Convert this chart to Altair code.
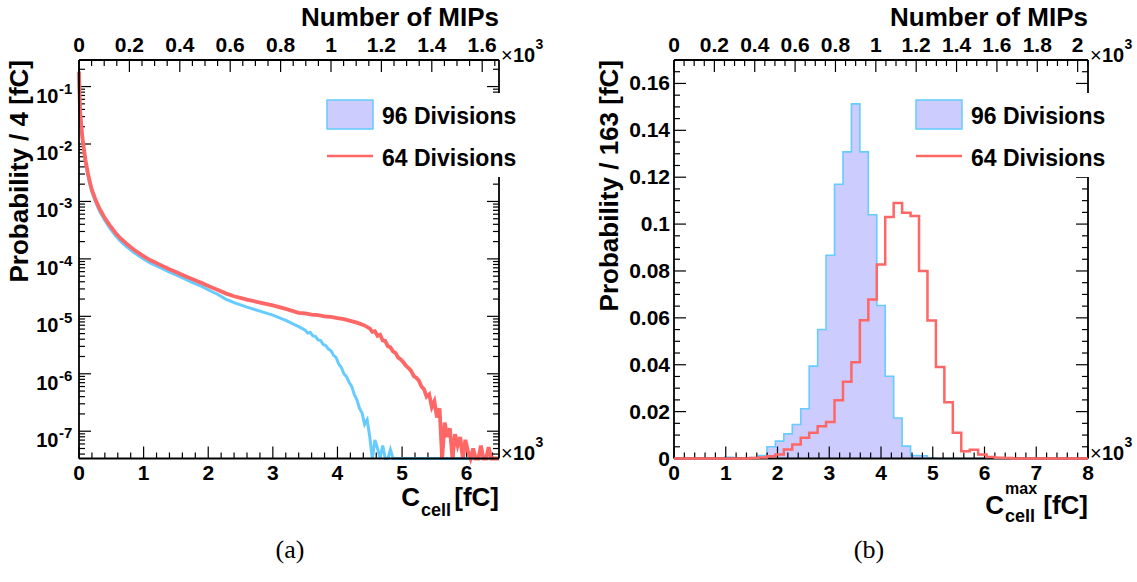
import altair as alt
import numpy as np
import pandas as pd

W, H = 1137, 582
SANS = "Liberation Sans"
SERIF = "Liberation Serif"
FILL96 = "#ccccff"
LINE96 = "#66ccff"
LINE64 = "#ff6666"

# ---------------------------------------------------------------- layout (px)
L_X0, L_X1 = 79, 499          # left pad frame
R_X0, R_X1 = 674, 1088        # right pad frame
Y_TOP, Y_BOT = 60, 458.5

FC_PER_MIP = 3.9              # 10^3 fC per 10^3 MIPs

# ---------------------------------------------------------------- data
# (a) cell charge spectrum, probability per 4 fC, x in 10^3 fC, log10 values
# nan = empty bin
nan = float("nan")
cell_x_96 = [0.000, 0.004, 0.008, 0.012, 0.016, 0.020, 0.026, 0.035, 0.045, 0.055,
             0.066, 0.080, 0.100, 0.118, 0.140, 0.170, 0.200, 0.220, 0.260, 0.320,
             0.400, 0.480, 0.560, 0.640, 0.730, 0.850, 0.980, 1.100, 1.250, 1.400,
             1.500, 1.620, 1.750, 1.900, 2.020, 2.150, 2.270, 2.400, 2.600, 2.800,
             3.000, 3.200, 3.400,
             3.50, 3.54, 3.58, 3.62, 3.66, 3.70, 3.74, 3.78, 3.82, 3.86,
             3.90, 3.94, 3.98, 4.02, 4.06, 4.10, 4.14, 4.18, 4.22, 4.26,
             4.30, 4.34, 4.38, 4.42, 4.46, 4.50, 4.54, 4.58, 4.62, 4.66,
             4.70, 4.74, 4.78, 4.82, 4.86, 6.50]
cell_log_96 = [-0.75, -0.97, -1.15, -1.30, -1.41, -1.50, -1.58, -1.72, -1.84, -1.95,
               -2.04, -2.16, -2.32, -2.43, -2.56, -2.71, -2.84, -2.90, -3.02, -3.17,
               -3.33, -3.47, -3.59, -3.69, -3.78, -3.89, -3.99, -4.07, -4.15, -4.23,
               -4.28, -4.34, -4.41, -4.48, -4.55, -4.62, -4.70, -4.76, -4.84, -4.91,
               -4.98, -5.07, -5.18,
               -5.24, -5.29, -5.28, -5.34, -5.35, -5.41, -5.42, -5.49, -5.51, -5.57,
               -5.60, -5.68, -5.72, -5.83, -5.89, -6.00, -6.05, -6.15, -6.22, -6.36,
               -6.45, -6.60, -6.68, -6.88, -6.80, -7.10, nan, -7.15, -7.30, nan,
               -7.25, nan, nan, -7.32, nan, nan]

cell_x_64 = [0.000, 0.004, 0.008, 0.012, 0.016, 0.020, 0.026, 0.035, 0.045, 0.055,
             0.066, 0.080, 0.100, 0.118, 0.140, 0.170, 0.200, 0.220, 0.260, 0.320,
             0.400, 0.480, 0.560, 0.640, 0.730, 0.850, 0.980, 1.100, 1.250, 1.400,
             1.500, 1.620, 1.750, 1.900, 2.020, 2.150, 2.270, 2.400, 2.600, 2.800,
             3.000, 3.200, 3.400, 3.500, 3.600, 3.700, 3.800, 3.900, 4.000, 4.100,
             4.200, 4.300, 4.400,
             4.50, 4.54, 4.58, 4.62, 4.66, 4.70, 4.74, 4.78, 4.82, 4.86,
             4.90, 4.94, 4.98, 5.02, 5.06, 5.10, 5.14, 5.18, 5.22, 5.26,
             5.30, 5.34, 5.38, 5.42, 5.46, 5.50, 5.54, 5.58, 5.62, 5.66,
             5.70, 5.74, 5.78, 5.82, 5.86, 5.90, 5.94, 5.98, 6.02, 6.06,
             6.10, 6.14, 6.18, 6.22, 6.26, 6.30, 6.34, 6.38, 6.50]
cell_log_64 = [-0.74, -0.95, -1.12, -1.27, -1.38, -1.47, -1.55, -1.68, -1.80, -1.91,
               -2.00, -2.12, -2.28, -2.39, -2.52, -2.67, -2.80, -2.86, -2.98, -3.13,
               -3.29, -3.42, -3.54, -3.64, -3.73, -3.84, -3.94, -4.02, -4.10, -4.18,
               -4.23, -4.29, -4.35, -4.42, -4.48, -4.54, -4.60, -4.65, -4.71, -4.76,
               -4.81, -4.87, -4.94, -4.95, -4.97, -4.98, -5.00, -5.01, -5.03, -5.05,
               -5.08, -5.11, -5.15,
               -5.21, -5.27, -5.26, -5.34, -5.32, -5.42, -5.43, -5.52, -5.54, -5.61,
               -5.64, -5.72, -5.75, -5.80, -5.86, -5.90, -5.95, -6.04, -6.07, -6.12,
               -6.22, -6.27, -6.40, -6.36, -6.58, -6.48, -6.76, -6.60, nan, -6.85,
               -7.10, -6.95, nan, -7.05, -7.25, -7.10, nan, -7.15, -7.35, nan,
               -7.30, nan, nan, -7.25, nan, nan, -7.28, nan, nan]

# (b) maximum cell charge, probability per 163 fC, 49 bins over 0-8 x 10^3 fC
max_prob_96 = [0, 0, 0, 0, 0, 0, 0.0005, 0.0002, 0.0002, 0.0004,
               0.0013, 0.0050, 0.0074, 0.0105, 0.0145, 0.0212, 0.0394, 0.0550, 0.0867, 0.1170,
               0.1308, 0.1513, 0.1308, 0.1040, 0.0653, 0.0351, 0.0173, 0.0053, 0.0013, 0.0012,
               0.0002, 0, 0, 0, 0, 0, 0, 0, 0, 0,
               0, 0, 0, 0, 0, 0, 0, 0, 0]
max_prob_64 = [0, 0, 0, 0, 0, 0, 0, 0, 0, 0.0002,
               0.0004, 0.0010, 0.0017, 0.0038, 0.0060, 0.0088, 0.0110, 0.0138, 0.0156, 0.0249,
               0.0327, 0.0411, 0.0590, 0.0678, 0.0828, 0.1030, 0.1090, 0.1048, 0.1034, 0.0800,
               0.0589, 0.0390, 0.0240, 0.0110, 0.0031, 0.0037, 0.0017, 0.0006, 0.0003, 0.0002,
               0, 0, 0, 0, 0, 0, 0, 0, 0]

# axis tick labels
l_bottom_labels = ["0", "1", "2", "3", "4", "5", "6"]
l_top_labels = ["0", "0.2", "0.4", "0.6", "0.8", "1", "1.2", "1.4", "1.6"]
r_bottom_labels = ["0", "1", "2", "3", "4", "5", "6", "7", "8"]
r_top_labels = ["0", "0.2", "0.4", "0.6", "0.8", "1", "1.2", "1.4", "1.6", "1.8", "2"]
r_y_labels = ["0", "0.02", "0.04", "0.06", "0.08", "0.1", "0.12", "0.14", "0.16"]
l_y_exponents = [-7, -6, -5, -4, -3, -2, -1]

# ---------------------------------------------------------------- scales
Y_MIN_LOG = 3.35e-8
lx = alt.Scale(domain=[0, 6.5], range=[L_X0, L_X1], nice=False, zero=False)
ltop = alt.Scale(domain=[0, 6.5 / FC_PER_MIP], range=[L_X0, L_X1], nice=False, zero=False)
ly = alt.Scale(type="log", domain=[Y_MIN_LOG, 0.29], range=[Y_BOT, Y_TOP], nice=False)
rx = alt.Scale(domain=[0, 8], range=[R_X0, R_X1], nice=False, zero=False)
rtop = alt.Scale(domain=[0, 8 / FC_PER_MIP], range=[R_X0, R_X1], nice=False, zero=False)
ry = alt.Scale(domain=[0, 0.17], range=[Y_BOT, Y_TOP], nice=False, zero=False)

MAJ, MIN = 12, 6
TICK_W = 1.2


def txt(s, x, y, size=21, align="left", baseline="alphabetic", angle=None,
        weight="bold", font=SANS):
    kw = dict(fontSize=size, align=align, baseline=baseline, font=font,
              fontWeight=weight, color="black")
    if angle is not None:
        kw["angle"] = angle
    return alt.Chart(pd.DataFrame({"t": [s]})).mark_text(**kw).encode(
        text="t:N", x=alt.value(x), y=alt.value(y))


def xticks(vals, scale, y0, y1):
    return alt.Chart(pd.DataFrame({"v": list(vals)})).mark_rule(
        color="black", strokeWidth=TICK_W).encode(
        x=alt.X("v:Q", scale=scale, axis=None), y=alt.value(y0), y2=alt.value(y1))


def yticks(vals, scale, x0, x1):
    return alt.Chart(pd.DataFrame({"v": list(vals)})).mark_rule(
        color="black", strokeWidth=TICK_W).encode(
        y=alt.Y("v:Q", scale=scale, axis=None), x=alt.value(x0), x2=alt.value(x1))


def xlabels(vals, labels, scale, y, size=21):
    df = pd.DataFrame({"v": list(vals), "lab": labels})
    return alt.Chart(df).mark_text(font=SANS, fontWeight="bold", fontSize=size,
                                   align="center", baseline="alphabetic", color="black").encode(
        x=alt.X("v:Q", scale=scale, axis=None), y=alt.value(y), text="lab:N")


def hline(x0, x1, y, w=1.8, color="black"):
    return alt.Chart(pd.DataFrame({"a": [0]})).mark_rule(color=color, strokeWidth=w).encode(
        x=alt.value(x0), x2=alt.value(x1), y=alt.value(y))


def vline(x, y0, y1, w=1.8, color="black"):
    return alt.Chart(pd.DataFrame({"a": [0]})).mark_rule(color=color, strokeWidth=w).encode(
        x=alt.value(x), y=alt.value(y0), y2=alt.value(y1))


def box(x0, x1, y0, y1, fill, stroke=None, sw=1.5):
    kw = dict(fill=fill)
    if stroke is not None:
        kw.update(stroke=stroke, strokeWidth=sw)
    else:
        kw.update(strokeWidth=0)
    return alt.Chart(pd.DataFrame({"a": [0]})).mark_rect(**kw).encode(
        x=alt.value(x0), x2=alt.value(x1), y=alt.value(y0), y2=alt.value(y1))


def frame(x0, x1):
    return [hline(x0, x1, Y_TOP), hline(x0, x1, Y_BOT), vline(x0, Y_TOP, Y_BOT),
            vline(x1, Y_TOP, Y_BOT)]


def frange(a, b, step):
    return [round(v, 4) for v in np.arange(a, b + 1e-9, step)]


def minors(a, b, step, major_step):
    return [v for v in frange(a, b, step) if abs(v / major_step - round(v / major_step)) > 1e-6]


def legend(dx):
    # white legend pad, drawn over the frame
    return [
        box(318 + dx, 524 + dx, 93, 177, "white"),
        box(327 + dx, 373 + dx, 100, 129, FILL96, LINE96, 1.5),
        hline(327 + dx, 373 + dx, 156, w=2.5, color=LINE64),
        txt("96 Divisions", 382 + dx, 123.5, size=23),
        txt("64 Divisions", 382 + dx, 165.5, size=23),
    ]


def times_ten(x, y):
    return [txt("\u00d7", x, y, size=20, weight="normal"),
            txt("10", x + 12, y, size=20),
            txt("3", x + 34.5, y - 13, size=14)]


layers = []

# ================================================================ panel (a)
fl_96 = 10 ** np.nan_to_num(np.array(cell_log_96), nan=np.log10(Y_MIN_LOG))
fl_64 = 10 ** np.nan_to_num(np.array(cell_log_64), nan=np.log10(Y_MIN_LOG))
df96 = pd.DataFrame({"v": cell_x_96, "p": fl_96})
df64 = pd.DataFrame({"v": cell_x_64, "p": fl_64})

# ticks first: the filled histogram hides them
l_major_y = [10.0 ** k for k in l_y_exponents]
l_minor_y = [m * 10.0 ** k for k in range(-8, 0) for m in range(2, 10)
             if Y_MIN_LOG <= m * 10.0 ** k <= 0.29]
layers += [
    xticks(frange(0, 6, 1), lx, Y_BOT, Y_BOT - MAJ),
    xticks(minors(0, 6.4, 0.2, 1), lx, Y_BOT, Y_BOT - MIN),
    xticks(frange(0, 1.6, 0.2), ltop, Y_TOP, Y_TOP + MAJ),
    xticks(minors(0, 1.65, 0.05, 0.2), ltop, Y_TOP, Y_TOP + MIN),
    yticks(l_major_y, ly, L_X0, L_X0 + MAJ),
    yticks(l_minor_y, ly, L_X0, L_X0 + MIN),
    yticks(l_major_y, ly, L_X1 - MAJ, L_X1),
    yticks(l_minor_y, ly, L_X1 - MIN, L_X1),
]

layers += [
    alt.Chart(df96).mark_area(color=FILL96, interpolate="linear").encode(
        x=alt.X("v:Q", scale=lx, axis=None), y=alt.Y("p:Q", scale=ly, axis=None),
        y2=alt.value(Y_BOT)),
    alt.Chart(df96).mark_line(color=LINE96, strokeWidth=3, interpolate="linear").encode(
        x=alt.X("v:Q", scale=lx, axis=None), y=alt.Y("p:Q", scale=ly, axis=None)),
    alt.Chart(df64).mark_line(color=LINE64, strokeWidth=3.8, interpolate="linear").encode(
        x=alt.X("v:Q", scale=lx, axis=None), y=alt.Y("p:Q", scale=ly, axis=None)),
]
layers += frame(L_X0, L_X1)
layers += legend(0)

# labels
layers.append(xlabels(frange(0, 6, 1), l_bottom_labels, lx, 480))
layers.append(xlabels(frange(0, 1.6, 0.2), l_top_labels, ltop, 52))
ydf = pd.DataFrame({"v": l_major_y, "base": ["10"] * 7,
                    "ex": [str(k) for k in l_y_exponents]})
layers.append(alt.Chart(ydf).mark_text(font=SANS, fontWeight="bold", fontSize=20,
                                       align="right", baseline="alphabetic", dy=16).encode(
    y=alt.Y("v:Q", scale=ly, axis=None), x=alt.value(58.5), text="base:N"))
layers.append(alt.Chart(ydf).mark_text(font=SANS, fontWeight="bold", fontSize=15,
                                       align="left", baseline="alphabetic", dy=7).encode(
    y=alt.Y("v:Q", scale=ly, axis=None), x=alt.value(59), text="ex:N"))
layers += times_ten(501, 62) + times_ten(501, 460)
layers += [
    txt("Number of MIPs", L_X1, 26, size=26, align="right"),
    txt("C", 420, 506, size=26, align="right"),
    txt("cell", 421, 516, size=18),
    txt("[fC]", L_X1, 506, size=26, align="right"),
    txt("Probability / 4 [fC]", 28, Y_TOP, size=26, align="right", angle=270),
    txt("(a)", 290, 550, size=26, align="center", baseline="middle",
        weight="normal", font=SERIF),
]

# ================================================================ panel (b)
edges = [i * 8 / 49 for i in range(50)]
dfb96 = pd.DataFrame({"v": edges, "p": max_prob_96 + [max_prob_96[-1]]})
dfb64 = pd.DataFrame({"v": edges, "p": max_prob_64 + [max_prob_64[-1]]})

layers += [
    alt.Chart(dfb96).mark_area(color=FILL96, interpolate="step-after").encode(
        x=alt.X("v:Q", scale=rx, axis=None), y=alt.Y("p:Q", scale=ry, axis=None),
        y2=alt.value(Y_BOT)),
    alt.Chart(dfb96).mark_line(color=LINE96, strokeWidth=1.6, interpolate="step-after").encode(
        x=alt.X("v:Q", scale=rx, axis=None), y=alt.Y("p:Q", scale=ry, axis=None)),
]
r_major_y = frange(0, 0.16, 0.02)
r_minor_y = minors(0, 0.17, 0.005, 0.02)
layers += [
    xticks(frange(0, 8, 1), rx, Y_BOT, Y_BOT - MAJ),
    xticks(minors(0, 7.8, 0.2, 1), rx, Y_BOT, Y_BOT - MIN),
    xticks(frange(0, 2.0, 0.2), rtop, Y_TOP, Y_TOP + MAJ),
    xticks(minors(0, 2.05, 0.05, 0.2), rtop, Y_TOP, Y_TOP + MIN),
    yticks(r_major_y, ry, R_X0, R_X0 + MAJ),
    yticks(r_minor_y, ry, R_X0, R_X0 + MIN),
    yticks(r_major_y, ry, R_X1 - MAJ, R_X1),
    yticks(r_minor_y, ry, R_X1 - MIN, R_X1),
]
layers += frame(R_X0, R_X1)
layers.append(
    alt.Chart(dfb64).mark_line(color=LINE64, strokeWidth=2.5, interpolate="step-after").encode(
        x=alt.X("v:Q", scale=rx, axis=None), y=alt.Y("p:Q", scale=ry, axis=None)))
layers += legend(R_X1 - L_X1)

layers.append(xlabels(frange(0, 8, 1), r_bottom_labels, rx, 480))
layers.append(xlabels(frange(0, 2.0, 0.2), r_top_labels, rtop, 52))
layers.append(alt.Chart(pd.DataFrame({"v": r_major_y, "lab": r_y_labels})).mark_text(
    font=SANS, fontWeight="bold", fontSize=21, align="right", baseline="middle",
    color="black", dy=1).encode(
    y=alt.Y("v:Q", scale=ry, axis=None), x=alt.value(670), text="lab:N"))
layers += times_ten(1090, 62) + times_ten(1090, 460)
layers += [
    txt("Number of MIPs", R_X1, 26, size=26, align="right"),
    txt("C", 1004, 514, size=26, align="right"),
    txt("max", 1005, 494, size=16),
    txt("cell", 1005, 522, size=18),
    txt("[fC]", R_X1, 514, size=26, align="right"),
    txt("Probability / 163 [fC]", 618, Y_TOP, size=26, align="right", angle=270),
    txt("(b)", 869, 550, size=26, align="center", baseline="middle",
        weight="normal", font=SERIF),
]

chart = alt.layer(*layers).resolve_scale(x="independent", y="independent").properties(
    width=W, height=H, padding=0, autosize=alt.AutoSizeParams(type="none"),
    background="white",
).configure_view(strokeWidth=0)

chart.save("out.html", embed_options={"renderer": "svg", "actions": False})
